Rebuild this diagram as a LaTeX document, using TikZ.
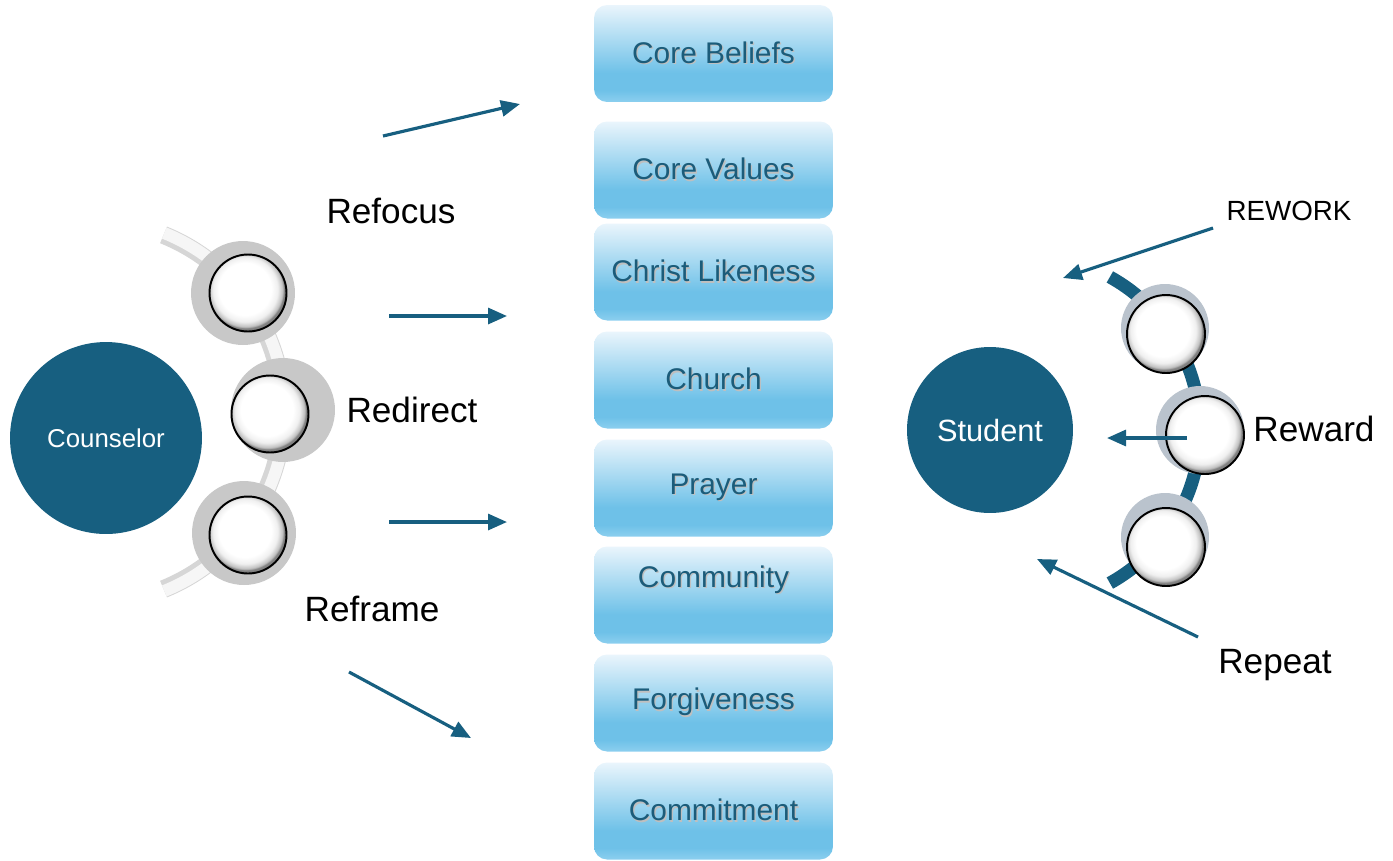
\documentclass[tikz,border=0pt]{standalone}
\usepackage{fontspec}
\setmainfont{Liberation Sans}
\usepackage{xcolor}
\usepackage{tikz}
\usetikzlibrary{
    arrows.meta
}

\definecolor{deepteal}{RGB}{23,95,128}
\definecolor{tiletext}{RGB}{27,92,122}
\definecolor{tiletop}{RGB}{234,245,252}
\definecolor{tilemid}{RGB}{110,193,232}
\definecolor{tilebot}{RGB}{140,207,239}
\definecolor{halogrey}{RGB}{200,200,200}
\definecolor{haloslate}{RGB}{186,195,205}
\definecolor{bandgrey}{RGB}{214,214,214}
\definecolor{bandlight}{RGB}{246,246,246}

\pgfdeclareverticalshading{tilefade}{100bp}{color(0bp)=(tilebot); color(25bp)=(tilebot); color(31bp)=(tilemid); color(40bp)=(tilemid); color(75bp)=(tiletop); color(100bp)=(tiletop)}
\pgfdeclareradialshading{gloss}{\pgfpoint{-3bp}{4bp}}{color(0bp)=(white); color(17bp)=(white); color(21bp)=(black!6); color(24bp)=(black!25); color(25bp)=(black!50); color(50bp)=(black!50)}

\newcommand{\softshade}[1]{\makebox[0pt][l]{\hspace{0.7pt}\raisebox{-0.9pt}{\color{black!25}#1}}#1}

\tikzset{
    hub/.style={circle, inner sep=0pt, fill=deepteal, text=white},
    tile/.style={rectangle, rounded corners=0.26cm, shading=tilefade, minimum width=4.78cm, minimum height=1.94cm, text=tiletext, font=\fontsize{17}{20}\selectfont},
    tag/.style={font=\fontsize{20}{24}\selectfont},
    halo/.style={circle, inner sep=0pt, fill=halogrey, minimum size=2.08cm},
    bead/.style={circle, inner sep=0pt, shading=gloss, draw=black, line width=1.1pt, minimum size=1.54cm},
    pointer/.style={draw=deepteal, line width=1.8pt, -{Triangle[length=0.38cm, width=0.32cm]}}
}

\begin{document}
\begin{tikzpicture}[x=0.02cm, y=-0.02cm]
        \useasboundingbox (0,0) rectangle (1393,860);

        \draw[line width=0.36cm, bandgrey] (92,412) ++(-68:191) arc[start angle=-68, end angle=68, radius=191];
        \draw[line width=0.24cm, bandlight] (92,412) ++(-68:193) arc[start angle=-68, end angle=68, radius=193];
        \draw (243,293) node[halo](h1){};
        \draw (283,410) node[halo](h2){};
        \draw (244,533) node[halo](h3){};
        \draw (248,293) node[bead](c1){};
        \draw (270,414) node[bead](c2){};
        \draw (248,535) node[bead](c3){};

        \draw[line width=0.26cm, deepteal] (1025,430) ++(-61:175) arc[start angle=-61, end angle=61, radius=175];
        \draw (1165,328) node[halo, fill=haloslate, minimum size=1.76cm](h4){};
        \draw (1200,430) node[halo, fill=haloslate, minimum size=1.76cm](h5){};
        \draw (1165,537) node[halo, fill=haloslate, minimum size=1.76cm](h6){};
        \draw (1166,334) node[bead, minimum size=1.56cm](c4){};
        \draw (1205,435) node[bead, minimum size=1.56cm](c5){};
        \draw (1166,547) node[bead, minimum size=1.56cm](c6){};

        \draw (106,438) node[hub, minimum size=3.84cm, font=\fontsize{14.7}{17}\selectfont](cns){Counselor};
        \draw (990,430) node[hub, minimum size=3.32cm, font=\fontsize{17.5}{21}\selectfont](std){Student};

        \draw (713.5,53.5) node[tile](b1){\softshade{Core Beliefs}};
        \draw (713.5,170) node[tile](b2){\softshade{Core Values}};
        \draw (713.5,272) node[tile](b3){\softshade{Christ Likeness}};
        \draw (713.5,380) node[tile](b4){\softshade{Church}};
        \draw (713.5,488) node[tile](b5){\softshade{Prayer}};
        \draw (713.5,595) node[tile](b6){\softshade{\smash{\raisebox{4pt}{Community}}}};
        \draw (713.5,703) node[tile](b7){\softshade{Forgiveness}};
        \draw (713.5,811) node[tile](b8){\softshade{Commitment}};

        \draw (391,211) node[tag](rfc){Refocus};
        \draw (412,410) node[tag](rdr){Redirect};
        \draw (372,609) node[tag](rfr){Reframe};
        \draw (1289,211) node[font=\fontsize{15.8}{19}\selectfont](rwk){REWORK};
        \draw (1314,429) node[tag](rwd){Reward};
        \draw (1275,665) node[tag](rpt){Repeat};

        \coordinate (s1) at (383,136);
        \coordinate (t1) at (520,104);
        \coordinate (s2) at (389,316);
        \coordinate (t2) at (507,316);
        \coordinate (s3) at (389,522);
        \coordinate (t3) at (507,522);
        \coordinate (s4) at (349,672);
        \coordinate (t4) at (471,738);
        \coordinate (s5) at (1213,228);
        \coordinate (t5) at (1063,278);
        \coordinate (s6) at (1187,438);
        \coordinate (t6) at (1107,438);
        \coordinate (s7) at (1198,637);
        \coordinate (t7) at (1037,559);

        \draw[pointer] (s1) to (t1);
        \draw[pointer] (s2) to (t2);
        \draw[pointer] (s3) to (t3);
        \draw[pointer] (s4) to (t4);
        \draw[pointer] (s5) to (t5);
        \draw[pointer] (s6) to (t6);
        \draw[pointer] (s7) to (t7);
    \end{tikzpicture}
\end{document}
